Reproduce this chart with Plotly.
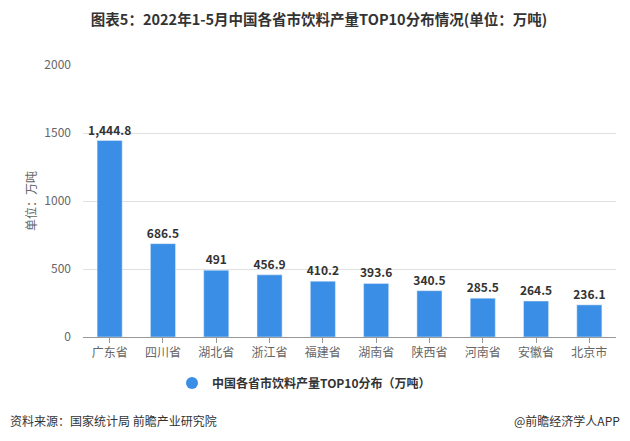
import plotly.graph_objects as go

categories = ["广东省", "四川省", "湖北省", "浙江省", "福建省", "湖南省", "陕西省", "河南省", "安徽省", "北京市"]
values = [1444.8, 686.5, 491, 456.9, 410.2, 393.6, 340.5, 285.5, 264.5, 236.1]
labels = ["1,444.8", "686.5", "491", "456.9", "410.2", "393.6", "340.5", "285.5", "264.5", "236.1"]
y_ticks = [0, 500, 1000, 1500, 2000]

font_family = "Microsoft YaHei, Noto Sans CJK SC, sans-serif"
bar_color = "#3A8EE6"

# page body has an 8px margin, so the figure is sized to fit the window
W, H = 622, 433
L, R, T, B = 75, 14, 57, 104
pw, ph = W - L - R, H - T - B

fig = go.Figure()
fig.add_trace(go.Bar(
    x=categories, y=values, text=["<b>" + t + "</b>" for t in labels], textposition="outside",
    textfont=dict(size=12, color="#333333", family=font_family),
    constraintext="none", textangle=0,
    marker=dict(color=bar_color), width=0.47,
    cliponaxis=False, showlegend=False,
))
fig.add_trace(go.Scatter(
    x=[None], y=[None], mode="markers",
    marker=dict(symbol="circle", size=11, color=bar_color),
    name="<b>中国各省市饮料产量TOP10分布（万吨）</b>", showlegend=True,
))

fig.update_layout(
    width=W, height=H,
    margin=dict(l=L, r=R, t=T, b=B, autoexpand=False),
    paper_bgcolor="white", plot_bgcolor="white",
    font=dict(family=font_family, color="#666666", size=12),
    title=dict(text="<b>图表5：2022年1-5月中国各省市饮料产量TOP10分布情况(单位：万吨)</b>",
               x=0.5, xanchor="center", y=1 - 12 / H, yanchor="middle",
               font=dict(size=14.5, color="#333333", family=font_family)),
    legend=dict(orientation="h", x=(296 - L) / pw, xanchor="center", y=-(375 - (T + ph)) / ph,
                yanchor="middle", font=dict(size=12, color="#333333"), itemsizing="constant"),
    showlegend=True,
)
fig.update_yaxes(range=[0, 2000], tickvals=y_ticks, showgrid=True, gridcolor="#E0E0E0",
                 zeroline=False, ticks="", tickfont=dict(size=12, color="#666666"),
                 ticklabelstandoff=11,
                 title=dict(text="单位：万吨", font=dict(size=12, color="#666666"), standoff=5))
fig.update_xaxes(showline=True, linecolor="#999999", ticks="outside", ticklen=5, tickcolor="#999999",
                 tickfont=dict(size=12, color="#666666"))

foot_y = -(412 - (T + ph)) / ph
fig.add_annotation(text="资料来源：国家统计局 前瞻产业研究院", xref="paper", yref="paper",
                   x=-L / pw, xanchor="left", y=foot_y, yanchor="middle", showarrow=False,
                   font=dict(size=12, color="#333333"))
fig.add_annotation(text="@前瞻经济学人APP", xref="paper", yref="paper",
                   x=1 + 6 / pw, xanchor="right", y=foot_y, yanchor="middle", showarrow=False,
                   font=dict(size=12, color="#333333"))

fig.write_html("out.html")
